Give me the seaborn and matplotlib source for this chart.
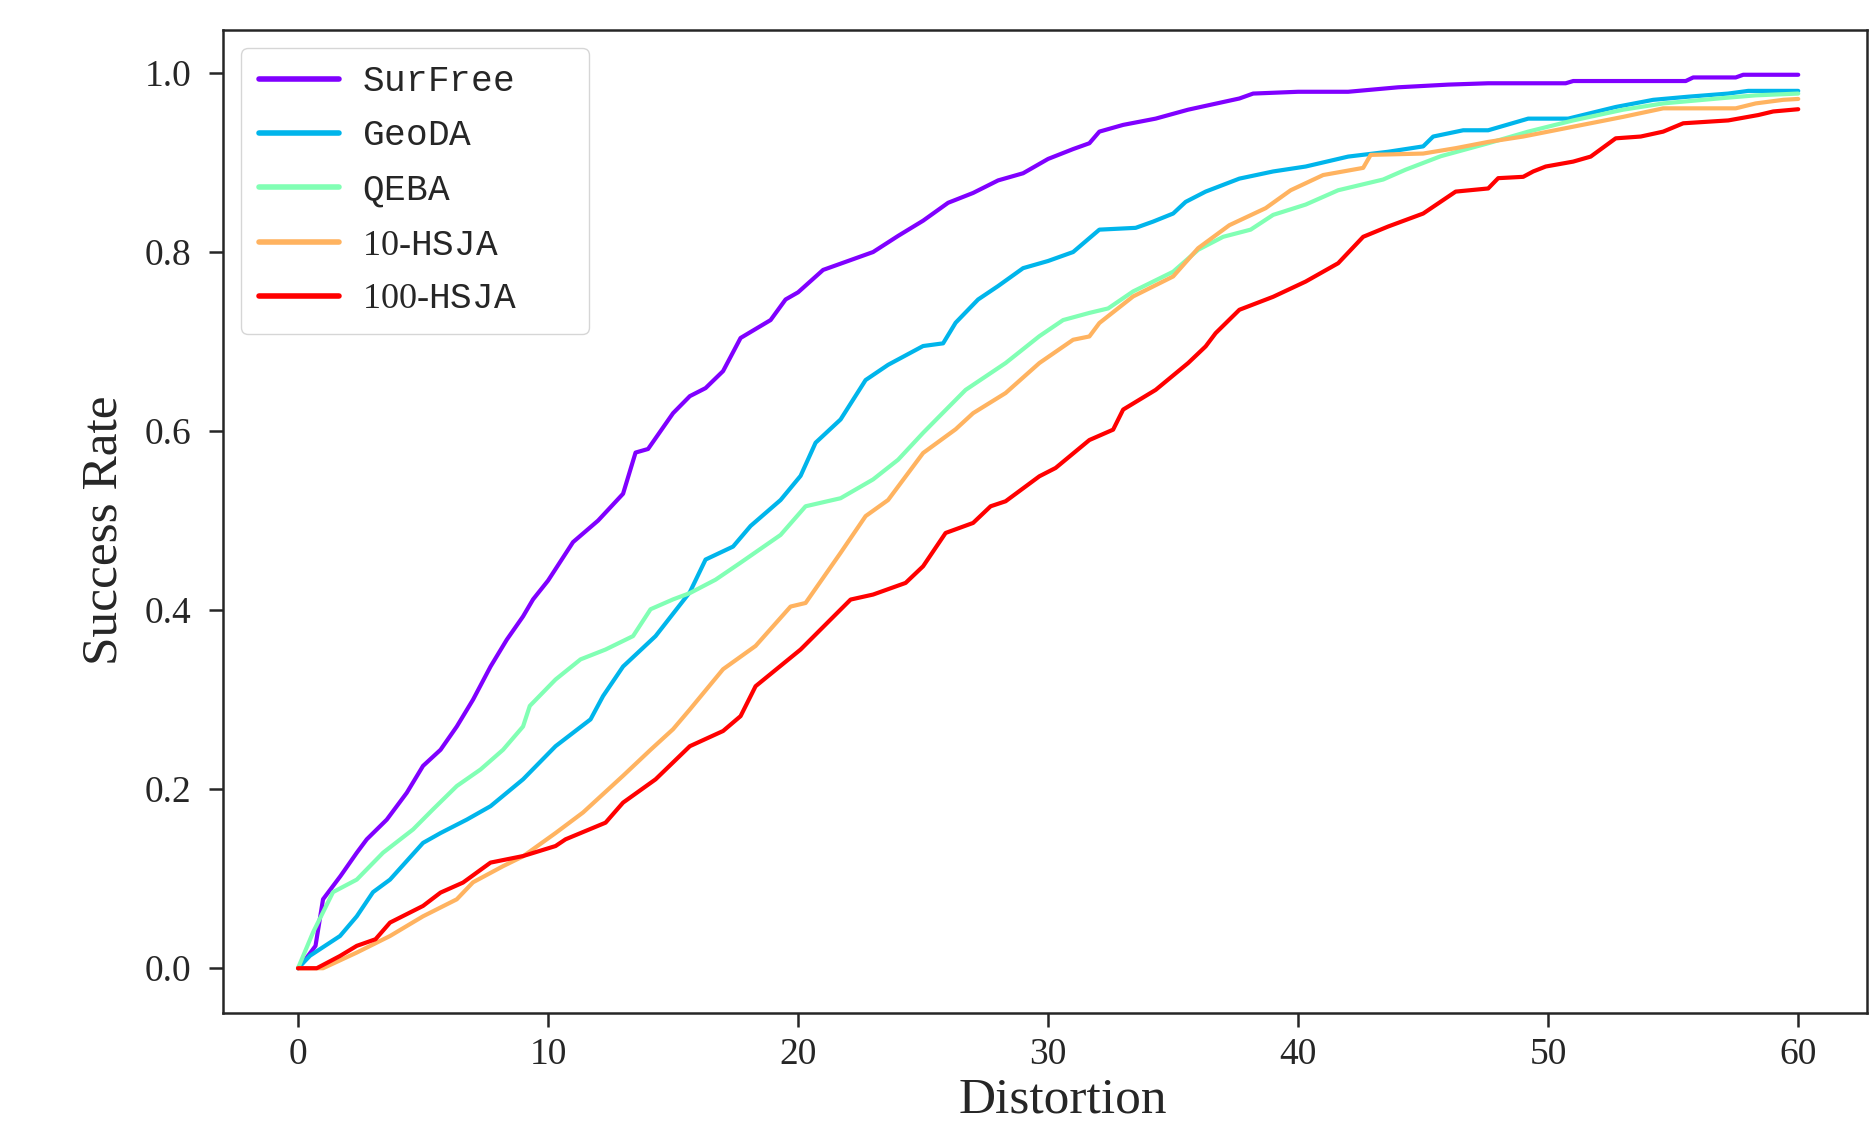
import numpy as np
import pandas as pd
import matplotlib
matplotlib.use("Agg")
import matplotlib.pyplot as plt
import seaborn as sns

methods = ["SurFree", "GeoDA", "QEBA", "10-HSJA", "100-HSJA"]
legend_labels = [r"$\mathtt{SurFree}$", r"$\mathtt{GeoDA}$", r"$\mathtt{QEBA}$",
                 r"10-$\mathtt{HSJA}$", "100-$\\mathtt{HSJA}$" + "\u00a0" * 7]

surfree_x = [0, 0.3, 0.7, 1.0, 1.7, 2.35, 2.75, 3.55, 4.35, 5.0, 5.7, 6.35, 7.0, 7.7, 8.35, 9.0, 9.4, 10, 11, 12,
             13, 13.5, 14, 15, 15.67, 16.3, 17, 17.7, 18.9, 19.5, 20, 21, 22, 23, 24, 25, 26, 27, 28, 29, 30, 31,
             31.65, 32.05, 33, 34.3, 35.6, 37.65, 38.2, 40, 42, 44, 46, 47.6, 50.7, 51, 55.5, 55.8, 57.5, 57.8, 60]
surfree_y = [0, 0.01, 0.025, 0.077, 0.103, 0.129, 0.144, 0.166, 0.196, 0.226, 0.244, 0.270, 0.300, 0.337, 0.367,
             0.393, 0.412, 0.433, 0.476, 0.50, 0.53, 0.576, 0.58, 0.62, 0.639, 0.648, 0.667, 0.704, 0.724, 0.747,
             0.755, 0.78, 0.79, 0.80, 0.818, 0.835, 0.855, 0.866, 0.88, 0.888, 0.904, 0.915, 0.9215, 0.9345,
             0.942, 0.949, 0.959, 0.9715, 0.977, 0.979, 0.979, 0.984, 0.987, 0.9885, 0.9885, 0.991, 0.991,
             0.995, 0.995, 0.998, 0.998]

geoda_x = [0, 0.48, 1.68, 2.35, 3.0, 3.68, 5.0, 5.7, 6.75, 7.7, 9.0, 10.3, 11.7, 12.2, 13.0, 14.3, 15.67, 16.3,
           17.4, 18.1, 19.3, 20.1, 20.7, 21.7, 22.7, 23.6, 25, 25.8, 26.3, 27.2, 28, 29, 30, 31, 31.65, 32.05,
           33.5, 34.2, 35, 35.5, 36.3, 37.65, 39, 40.3, 42, 43.6, 45, 45.4, 46.6, 47.6, 49.2, 50.8, 52.7, 54.2,
           55.6, 57.2, 58, 60]
geoda_y = [0, 0.014, 0.036, 0.058, 0.085, 0.099, 0.140, 0.151, 0.166, 0.181, 0.211, 0.248, 0.278, 0.304, 0.337,
           0.371, 0.42, 0.4565, 0.471, 0.494, 0.523, 0.55, 0.587, 0.613, 0.657, 0.674, 0.695, 0.698, 0.721,
           0.747, 0.762, 0.782, 0.79, 0.80, 0.8155, 0.825, 0.827, 0.834, 0.843, 0.856, 0.8675, 0.882, 0.890,
           0.8955, 0.9066, 0.912, 0.918, 0.929, 0.936, 0.936, 0.949, 0.949, 0.962, 0.970, 0.9735, 0.977, 0.980,
           0.980]

qeba_x = [0, 0.6, 1.0, 1.4, 2.35, 3.4, 4.6, 5.4, 6.35, 7.3, 8.2, 9.0, 9.27, 10.3, 11.3, 12.3, 13.4, 14.1, 15.0,
          15.67, 16.7, 17.7, 19.3, 20.3, 21.7, 23, 24, 25, 25.6, 26.7, 28.3, 29.65, 30.6, 31.65, 32.4, 33.4, 35,
          36, 37, 38.1, 39, 40.3, 41.6, 43.4, 44.3, 45.7, 47.6, 49.2, 51, 53, 54.6, 57, 58.3, 60]
qeba_y = [0, 0.04, 0.0625, 0.085, 0.099, 0.129, 0.155, 0.1775, 0.2035, 0.222, 0.244, 0.270, 0.293, 0.3225, 0.345,
          0.356, 0.371, 0.401, 0.412, 0.419, 0.434, 0.453, 0.484, 0.516, 0.525, 0.546, 0.568, 0.598, 0.615,
          0.646, 0.676, 0.706, 0.724, 0.732, 0.737, 0.756, 0.778, 0.8025, 0.817, 0.825, 0.8415, 0.853, 0.869,
          0.881, 0.892, 0.907, 0.9215, 0.9345, 0.947, 0.959, 0.966, 0.972, 0.975, 0.977]

hsja10_x = [0, 1.0, 2.35, 3.68, 5.0, 6.35, 7.0, 8.2, 9.0, 10.3, 11.4, 13.0, 14.1, 15.0, 15.67, 17, 18.3, 19.7,
            20.3, 21.7, 22.7, 23.6, 25, 26.3, 27, 28.3, 29.65, 31, 31.65, 32.05, 33.4, 35, 36, 37.25, 38.7,
            39.7, 41, 42.6, 42.9, 45, 46.3, 47.6, 49, 51, 53, 54.6, 57.5, 58.3, 59.4, 60]
hsja10_y = [0, 0.0, 0.0175, 0.036, 0.058, 0.077, 0.096, 0.114, 0.125, 0.151, 0.174, 0.215, 0.244, 0.267, 0.289,
            0.334, 0.360, 0.404, 0.408, 0.464, 0.505, 0.523, 0.5755, 0.602, 0.620, 0.6425, 0.676, 0.702,
            0.7057, 0.7207, 0.7504, 0.7727, 0.8043, 0.830, 0.849, 0.869, 0.886, 0.894, 0.9085, 0.910, 0.916,
            0.923, 0.929, 0.940, 0.951, 0.9605, 0.9605, 0.966, 0.970, 0.971]

hsja100_x = [0, 0.75, 1.68, 2.35, 3.1, 3.68, 5.0, 5.7, 6.6, 7.7, 9.0, 10.3, 10.7, 12.3, 13.0, 14.3, 15.67, 17,
             17.7, 18.3, 20.1, 21.3, 22.1, 23, 24.3, 25, 25.9, 27, 27.7, 28.3, 29.65, 30.3, 31.65, 32.6, 33,
             34.3, 35.6, 36.3, 36.7, 37.65, 39, 40.3, 41.6, 42.6, 43.6, 45, 46.3, 47.6, 48, 49, 49.4, 49.9, 51,
             51.7, 52.7, 53.7, 54.6, 55.4, 57.2, 58.4, 59, 60]
hsja100_y = [0, 0, 0.0137, 0.025, 0.0324, 0.051, 0.0696, 0.0845, 0.0957, 0.118, 0.1253, 0.1365, 0.144, 0.1626,
             0.185, 0.211, 0.248, 0.265, 0.2816, 0.315, 0.356, 0.3895, 0.4118, 0.4174, 0.4304, 0.449, 0.4862,
             0.4974, 0.516, 0.5216, 0.5495, 0.5588, 0.590, 0.6016, 0.624, 0.646, 0.676, 0.6946, 0.7094, 0.7355,
             0.750, 0.767, 0.7875, 0.817, 0.8285, 0.843, 0.8675, 0.871, 0.8825, 0.884, 0.890, 0.8955, 0.901,
             0.9066, 0.927, 0.929, 0.9345, 0.9438, 0.947, 0.953, 0.957, 0.9595]

x_ticks = [0, 10, 20, 30, 40, 50, 60]
y_ticks = [0.0, 0.2, 0.4, 0.6, 0.8, 1.0]

series = {
    "SurFree": (surfree_x, surfree_y),
    "GeoDA": (geoda_x, geoda_y),
    "QEBA": (qeba_x, qeba_y),
    "10-HSJA": (hsja10_x, hsja10_y),
    "100-HSJA": (hsja100_x, hsja100_y),
}
rows = []
for m in methods:
    xs, ys = series[m]
    for xv, yv in zip(xs, ys):
        rows.append({"Distortion": xv, "Success Rate": yv, "method": m})
df = pd.DataFrame(rows)

sns.set_style("ticks")
plt.rcParams["font.family"] = ["Liberation Serif", "DejaVu Serif"]
plt.rcParams["mathtext.fontset"] = "custom"
plt.rcParams["mathtext.tt"] = "Liberation Mono"
plt.rcParams["mathtext.rm"] = "Liberation Serif"

colors = [plt.cm.rainbow(v) for v in np.linspace(0, 1, 5)]

fig = plt.figure(figsize=(18.69, 11.22), dpi=100)
ax = fig.add_axes([223 / 1869, (1122 - 1013) / 1122, (1867 - 223) / 1869, (1013 - 30) / 1122])

sns.lineplot(data=df, x="Distortion", y="Success Rate", hue="method", hue_order=methods,
             palette=colors, linewidth=3, ax=ax, estimator=None, sort=False)

ax.set_xlim(-3, 62.75)
ax.set_ylim(-0.05, 1.048)
ax.set_xticks(x_ticks)
ax.set_xticklabels([str(t) for t in x_ticks])
ax.set_yticks(y_ticks)
ax.set_yticklabels([f"{t:.1f}" for t in y_ticks])
ax.tick_params(labelsize=27, length=10, width=1.8)
ax.tick_params(axis="x", pad=8)
ax.tick_params(axis="y", pad=13)
for s in ax.spines.values():
    s.set_linewidth(1.8)
ax.set_xlabel("Distortion", fontsize=37, labelpad=3)
ax.set_ylabel("Success Rate", fontsize=37, labelpad=12)
ax.xaxis.label.set_x(0.511)
ax.yaxis.label.set_y(0.491)

handles, _ = ax.get_legend_handles_labels()
leg = ax.legend(handles, legend_labels, loc="upper left", fontsize=26, handlelength=2.2,
                handletextpad=0.65, labelspacing=0.57, borderpad=0.5, frameon=True)
for h in leg.get_lines():
    h.set_linewidth(4)

fig.savefig("out.png", dpi=100)
